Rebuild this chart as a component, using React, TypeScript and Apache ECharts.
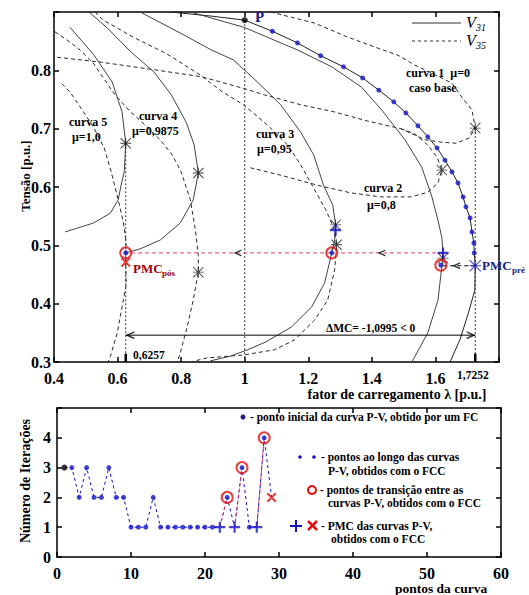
import React, { useEffect, useRef } from 'react';
import * as echarts from 'echarts';

// ================= TOP CHART DATA (λ [p.u.], V [p.u.]) =================
const xTicksTop = [0.4, 0.6, 0.8, 1, 1.2, 1.4, 1.6];
const lambdaPos = 0.6257;
const lambdaPre = 1.7252;
const pointP = [1.0, 0.886];
const pmcPre = [1.7252, 0.465];
const pmcPos = [0.6257, 0.471];

// curve 1 (mu = 0, caso base)
const c1V31Start = [[0.766, 0.9], [0.895, 0.893]];
const fccPoints = [
  [1.087, 0.867], [1.166, 0.847], [1.239, 0.825], [1.311, 0.806], [1.371, 0.787],
  [1.422, 0.766], [1.469, 0.746], [1.507, 0.727], [1.545, 0.705], [1.576, 0.686],
  [1.605, 0.667], [1.63, 0.646], [1.652, 0.626], [1.671, 0.607], [1.687, 0.583],
  [1.696, 0.566], [1.709, 0.547], [1.715, 0.523], [1.721, 0.504], [1.722, 0.487],
];
const c1V31Lower = [[1.724, 0.423], [1.702, 0.381], [1.677, 0.338], [1.646, 0.3]];
const c1V35 = [
  [1.081, 0.9], [1.22, 0.881], [1.324, 0.857], [1.409, 0.84], [1.482, 0.826], [1.535, 0.809],
  [1.589, 0.795], [1.652, 0.778], [1.683, 0.754], [1.715, 0.732], [1.7252, 0.701],
  [1.706, 0.684], [1.665, 0.675], [1.617, 0.677], [1.567, 0.681], [1.491, 0.7], [1.387, 0.713],
  [1.28, 0.729], [1.176, 0.741], [1.062, 0.758], [0.99, 0.77], [0.864, 0.789], [0.715, 0.801],
  [0.548, 0.814], [0.4, 0.823],
];
// curve 2 (mu = 0.8)
const c2V31 = [
  [0.829, 0.9], [0.996, 0.874], [1.062, 0.859], [1.122, 0.845], [1.166, 0.835], [1.274, 0.806],
  [1.368, 0.771], [1.431, 0.732], [1.504, 0.681], [1.557, 0.634], [1.589, 0.583], [1.608, 0.543],
  [1.62, 0.514], [1.624, 0.487], [1.62, 0.463], [1.608, 0.406], [1.576, 0.35], [1.526, 0.3],
];
const c2V35 = [
  [1.491, 0.7], [1.535, 0.691], [1.576, 0.672], [1.605, 0.651], [1.62, 0.629], [1.608, 0.607],
  [1.576, 0.591], [1.523, 0.583], [1.428, 0.583], [1.333, 0.59], [1.229, 0.603], [1.122, 0.619],
  [1.018, 0.633],
];
// curve 3 (mu = 0.95)
const c3V31 = [
  [0.671, 0.9], [0.797, 0.864], [0.895, 0.835], [0.964, 0.818], [1.04, 0.78], [1.113, 0.741],
  [1.176, 0.694], [1.217, 0.655], [1.248, 0.603], [1.277, 0.569], [1.286, 0.535], [1.283, 0.509],
  [1.274, 0.487], [1.251, 0.435], [1.21, 0.394], [1.147, 0.36], [1.065, 0.334], [1.009, 0.321],
  [0.955, 0.31], [0.892, 0.302],
];
const c3V35 = [
  [0.529, 0.9], [0.555, 0.886], [0.649, 0.857], [0.756, 0.828], [0.86, 0.792], [0.93, 0.763],
  [0.996, 0.741], [1.072, 0.706], [1.135, 0.672], [1.176, 0.638], [1.217, 0.598], [1.255, 0.561],
  [1.28, 0.53], [1.289, 0.501], [1.283, 0.458], [1.261, 0.406], [1.22, 0.372], [1.157, 0.338],
  [1.094, 0.321], [0.996, 0.312], [0.882, 0.307], [0.829, 0.3],
];
// curve 4 (mu = 0.9875)
const c4V31 = [
  [0.51, 0.9], [0.567, 0.873], [0.643, 0.831], [0.715, 0.797], [0.769, 0.758], [0.816, 0.711],
  [0.841, 0.672], [0.854, 0.624], [0.838, 0.578], [0.797, 0.538], [0.734, 0.509], [0.671, 0.494],
  [0.6257, 0.487],
];
const c4V35 = [
  [0.403, 0.866], [0.441, 0.852], [0.482, 0.835], [0.523, 0.813], [0.555, 0.787], [0.592, 0.758],
  [0.64, 0.729], [0.687, 0.706], [0.734, 0.681], [0.772, 0.655], [0.8, 0.626], [0.829, 0.578],
  [0.845, 0.526], [0.854, 0.483], [0.854, 0.454], [0.838, 0.406], [0.819, 0.36], [0.797, 0.315],
  [0.788, 0.3],
];
// curve 5 (mu = 1.0)
const c5V31 = [
  [0.45, 0.874], [0.526, 0.826], [0.583, 0.78], [0.614, 0.729], [0.6257, 0.675], [0.621, 0.626],
  [0.611, 0.603], [0.602, 0.578], [0.577, 0.555], [0.523, 0.538], [0.435, 0.523],
];
const c5V35 = [
  [0.425, 0.777], [0.45, 0.763], [0.485, 0.735], [0.526, 0.701], [0.558, 0.667], [0.58, 0.626],
  [0.602, 0.578], [0.618, 0.54], [0.627, 0.506], [0.6257, 0.471], [0.627, 0.432], [0.618, 0.406],
  [0.599, 0.35], [0.577, 0.309], [0.57, 0.3],
];

const blackStars = [
  [0.6257, 0.675], [0.854, 0.624], [0.854, 0.454], [1.286, 0.535], [1.289, 0.501],
  [1.62, 0.629], [1.7252, 0.701], [1.624, 0.478],
];
const pmcPlus = [[1.624, 0.487], [1.286, 0.526]];
const transitions = [[1.617, 0.466], [1.274, 0.487], [0.6257, 0.487]];
const transferV = 0.487;
const transferFrom = 1.624;
const stepV = 0.465;
const stepTo = 1.617;
const arrowMarks = [[1.665, 0.465], [1.43, 0.487], [0.977, 0.487]];
const deltaV = 0.346;

// ================= BOTTOM CHART DATA =================
const iterPoints = [1, 2, 3, 4, 5, 6, 7, 8, 9, 10, 11, 12, 13, 14, 15, 16, 17, 18, 19, 20, 21, 22, 23, 24, 25, 26, 27, 28, 29];
const iterCounts = [3, 3, 2, 3, 2, 2, 3, 2, 2, 1, 1, 1, 2, 1, 1, 1, 1, 1, 1, 1, 1, 1, 2, 1, 3, 1, 1, 4, 2];
const initialIdx = [1];
const pmcIdx = [22, 24, 27];
const transIdx = [23, 25, 28];
const pmcPosIdx = [29];

const FONT = '"Liberation Serif", "Times New Roman", serif';
const BLUE = '#1414c8';
const RED = '#e01010';
const NAVY = '#1a1a80';

const PLUS = 'path://M4,0H6V10H4Z M0,4H10V6H0Z';
const XMARK = 'path://M1.5,0 L5,3.5 L8.5,0 L10,1.5 L6.5,5 L10,8.5 L8.5,10 L5,6.5 L1.5,10 L0,8.5 L3.5,5 L0,1.5 Z';
const STAR = 'path://M4.6,0H5.4V10H4.6Z M0,4.6H10V5.4H0Z M0.6,0 L5,4.4 L9.4,0 L10,0.6 L5.6,5 L10,9.4 L9.4,10 L5,5.6 L0.6,10 L0,9.4 L4.4,5 L0,0.6 Z';
const CHEV_L = 'path://M10,0 L0,5 L10,10 L10,8 L4,5 L10,2 Z';
const CHEV_R = 'path://M0,0 L10,5 L0,10 L0,8 L6,5 L0,2 Z';

function lineS(data: any[], dashed: boolean, color = '#2a2a2a', width = 1, ai = 0, dash: any = [4, 3]) {
  return {
    type: 'line', xAxisIndex: ai, yAxisIndex: ai, data, symbol: 'none', showSymbol: false,
    silent: true, z: 2, lineStyle: { color, width, type: dashed ? dash : 'solid' },
  };
}
function sc(data: any[], symbol: string, size: any, itemStyle: any, ai = 0, z = 5, extra: any = {}) {
  return { type: 'scatter', xAxisIndex: ai, yAxisIndex: ai, data, symbol, symbolSize: size, itemStyle, z, silent: true, ...extra };
}
function txt(text: string, x: number, y: number, size: number, opts: any = {}) {
  return {
    type: 'text', x, y, rotation: opts.rotation || 0, z: 100,
    style: {
      text, fill: opts.color || '#000', fontSize: size, fontFamily: FONT,
      fontWeight: opts.weight || 'bold', fontStyle: opts.italic ? 'italic' : 'normal',
      textAlign: opts.align || 'left', textVerticalAlign: 'middle',
    },
  };
}

const axisLineS = { show: true, onZero: false, lineStyle: { color: '#000', width: 1.5 } };
const tickS = { show: true, inside: true, length: 5, lineStyle: { color: '#000', width: 1.5 } };

export default function App() {
  const ref = useRef<HTMLDivElement>(null);
  useEffect(() => {
    if (!ref.current) return;
    const chart = echarts.init(ref.current, undefined, { renderer: 'svg' });
    const pick = (idx: number[]) => idx.map((i) => [iterPoints[i - 1], iterCounts[i - 1]]);
    const seg = (a: number, b: number) => [[iterPoints[a - 1], iterCounts[a - 1]], [iterPoints[b - 1], iterCounts[b - 1]]];
    const blueIdx = iterPoints.filter((p) => !initialIdx.includes(p) && !pmcIdx.includes(p) && !pmcPosIdx.includes(p));
    const allIter = iterPoints.map((p, i) => [p, iterCounts[i]]);

    const option: any = {
      animation: false,
      backgroundColor: '#fff',
      grid: [
        { left: 54, top: 12, width: 445, height: 350 },
        { left: 57, top: 408, width: 444, height: 149 },
      ],
      xAxis: [
        {
          gridIndex: 0, type: 'value', min: 0.4, max: 1.8, interval: 0.2, position: 'bottom',
          axisLine: axisLineS, axisTick: tickS, splitLine: { show: false },
          axisLabel: {
            margin: 8, fontSize: 16, fontWeight: 'bold', fontFamily: FONT, color: '#000',
            formatter: (v: number) => (xTicksTop.some((t) => Math.abs(t - v) < 1e-6) ? String(+v.toFixed(1)) : ''),
          },
        },
        { gridIndex: 0, type: 'value', min: 0.4, max: 1.8, interval: 0.2, position: 'top', axisLine: axisLineS, axisTick: tickS, axisLabel: { show: false }, splitLine: { show: false } },
        {
          gridIndex: 1, type: 'value', min: 0, max: 60, interval: 10, position: 'bottom',
          axisLine: axisLineS, axisTick: tickS, splitLine: { show: false },
          axisLabel: { margin: 8, fontSize: 16, fontWeight: 'bold', fontFamily: FONT, color: '#000' },
        },
        { gridIndex: 1, type: 'value', min: 0, max: 60, interval: 10, position: 'top', axisLine: axisLineS, axisTick: tickS, axisLabel: { show: false }, splitLine: { show: false } },
      ],
      yAxis: [
        {
          gridIndex: 0, type: 'value', min: 0.3, max: 0.9, interval: 0.1, position: 'left',
          axisLine: axisLineS, axisTick: tickS, splitLine: { show: false },
          axisLabel: {
            margin: 3, fontSize: 16, fontWeight: 'bold', fontFamily: FONT, color: '#000',
            formatter: (v: number) => (v > 0.85 ? '' : v.toFixed(1)),
          },
        },
        { gridIndex: 0, type: 'value', min: 0.3, max: 0.9, interval: 0.1, position: 'right', axisLine: axisLineS, axisTick: tickS, axisLabel: { show: false }, splitLine: { show: false } },
        {
          gridIndex: 1, type: 'value', min: 0, max: 5, interval: 1, position: 'left',
          axisLine: axisLineS, axisTick: tickS, splitLine: { show: false },
          axisLabel: {
            margin: 6, fontSize: 16, fontWeight: 'bold', fontFamily: FONT, color: '#000',
            formatter: (v: number) => (v >= 5 ? '' : String(v)),
          },
        },
        { gridIndex: 1, type: 'value', min: 0, max: 5, interval: 1, position: 'right', axisLine: axisLineS, axisTick: tickS, axisLabel: { show: false }, splitLine: { show: false } },
      ],
      series: [
        // PV curves
        lineS([...c1V31Start, pointP, ...fccPoints, pmcPre, ...c1V31Lower], false, '#222'),
        lineS(c1V35, true),
        lineS(c2V31, false, '#444'),
        lineS(c2V35, true),
        lineS(c3V31, false, '#444'),
        lineS(c3V35, true),
        lineS(c4V31, false, '#444'),
        lineS(c4V35, true),
        lineS(c5V31, false, '#444'),
        lineS(c5V35, true),
        // reference verticals
        lineS([pointP, [pointP[0], 0.3]], true, '#333', 1, 0, [2, 2]),
        lineS([[lambdaPos, 0.675], [lambdaPos, 0.3]], true, '#333', 1, 0, [2, 2]),
        lineS([[lambdaPre, 0.701], [lambdaPre, 0.3]], true, '#333', 1, 0, [2, 2]),
        lineS([[lambdaPos, 0.3], [lambdaPos, 0.314]], false, '#000', 2.5),
        lineS([[lambdaPre, 0.3], [lambdaPre, 0.314]], false, '#000', 2.5),
        // transfer lines
        lineS([[transferFrom, transferV], [lambdaPos, transferV]], true, '#e04060', 1),
        lineS([[lambdaPre, stepV], [stepTo, stepV]], true, '#000', 1),
        lineS([[lambdaPos, deltaV], [lambdaPre, deltaV]], false, '#000', 1),
        sc(arrowMarks, CHEV_L, [8, 7], { color: '#000' }),
        sc([[lambdaPos, deltaV]], CHEV_L, [9, 8], { color: '#000' }, 0, 5, { symbolOffset: [4, 0] }),
        sc([[lambdaPre, deltaV]], CHEV_R, [9, 8], { color: '#000' }, 0, 5, { symbolOffset: [-4, 0] }),
        // markers
        sc(fccPoints, 'circle', 5, { color: BLUE }),
        sc([pointP], 'circle', 6, { color: '#000' }),
        sc(blackStars, STAR, 11, { color: '#111' }),
        sc(pmcPlus, PLUS, 11, { color: BLUE }, 0, 6),
        sc([pmcPre], STAR, 12, { color: BLUE }, 0, 6),
        sc(transitions, 'circle', 11, { color: 'rgba(0,0,0,0)', borderColor: RED, borderWidth: 2 }, 0, 6),
        sc(transitions, 'circle', 5, { color: BLUE }, 0, 7),
        sc([pmcPos], XMARK, 10, { color: RED }, 0, 7),

        // ---- bottom chart ----
        lineS(allIter, true, BLUE, 1, 2, [3, 3]),
        lineS(seg(22, 23), true, '#e03060', 1, 2, [3, 3]),
        lineS(seg(24, 25), true, '#e03060', 1, 2, [3, 3]),
        lineS(seg(27, 28), true, '#e03060', 1, 2, [3, 3]),
        sc(pick(blueIdx), 'circle', 5, { color: BLUE }, 2),
        sc(pick(initialIdx), 'circle', 6, { color: '#000' }, 2),
        sc(pick(pmcIdx), PLUS, 11, { color: BLUE }, 2, 6),
        sc(pick(transIdx), 'circle', 11, { color: 'rgba(0,0,0,0)', borderColor: RED, borderWidth: 2 }, 2, 6),
        sc(pick(pmcPosIdx), XMARK, 10, { color: RED }, 2, 6),
      ],
      graphic: [
        // axis names
        txt('Tensão [p.u.]', 25, 176, 13, { rotation: Math.PI / 2, align: 'center' }),
        txt('fator de carregamento λ [p.u.]', 397, 394, 14, { align: 'center' }),
        txt('Número de Iterações', 25, 481, 14, { rotation: Math.PI / 2, align: 'center' }),
        txt('pontos da curva', 441, 588, 13.5, { align: 'center' }),
        // top legend
        { type: 'line', z: 100, shape: { x1: 412, y1: 23, x2: 461, y2: 23 }, style: { stroke: '#333', lineWidth: 1 } },
        { type: 'line', z: 100, shape: { x1: 412, y1: 41, x2: 461, y2: 41 }, style: { stroke: '#333', lineWidth: 1, lineDash: [3, 3] } },
        txt('V', 466, 22, 16, { weight: 'normal', italic: true }),
        txt('31', 476, 27, 10, { weight: 'normal', italic: true }),
        txt('V', 466, 40, 16, { weight: 'normal', italic: true }),
        txt('35', 476, 45, 10, { weight: 'normal', italic: true }),
        // curve labels
        txt('curva 1  μ=0', 406, 73, 12),
        txt('caso base', 409, 88, 12),
        txt('curva 2', 364, 188, 12),
        txt('μ=0,8', 367, 205, 12),
        txt('curva 3', 256, 134, 12),
        txt('μ=0,95', 257, 149, 12),
        txt('curva 4', 139, 116, 12),
        txt('μ=0,9875', 132, 131, 12),
        txt('curva 5', 69, 122, 12),
        txt('μ=1,0', 72, 137, 12),
        // annotations
        txt('P', 255, 17, 15, { color: NAVY }),
        txt('PMC', 482, 265, 13, { color: NAVY }),
        txt('pré', 512, 270, 9, { color: NAVY }),
        txt('PMC', 133, 268, 13, { color: '#a00000' }),
        txt('pós', 162, 273, 9, { color: '#a00000' }),
        txt('ΔMC= -1,0995 < 0', 326, 328, 11.5),
        txt('0,6257', 133, 355, 11.5),
        txt('1,7252', 457, 375, 11.5),
        // bottom legend
        { type: 'circle', z: 100, shape: { cx: 243, cy: 417, r: 2.5 }, style: { fill: NAVY } },
        txt('- ponto inicial da curva P-V, obtido por um FC', 250, 417, 11.5),
        { type: 'circle', z: 100, shape: { cx: 300, cy: 457, r: 1.8 }, style: { fill: BLUE } },
        { type: 'circle', z: 100, shape: { cx: 314, cy: 457, r: 1.8 }, style: { fill: BLUE } },
        txt('- pontos ao longo das curvas', 321, 457, 11.5),
        txt('P-V, obtidos com o FCC', 328, 471, 11.5),
        { type: 'circle', z: 100, shape: { cx: 312, cy: 490, r: 4 }, style: { fill: 'none', stroke: RED, lineWidth: 2 } },
        txt('- pontos de transição entre as', 320, 490, 11.5),
        txt('curvas P-V, obtidos com o FCC', 328, 503, 11.5),
        { type: 'line', z: 100, shape: { x1: 290, y1: 526, x2: 302, y2: 526 }, style: { stroke: BLUE, lineWidth: 2 } },
        { type: 'line', z: 100, shape: { x1: 296, y1: 520, x2: 296, y2: 532 }, style: { stroke: BLUE, lineWidth: 2 } },
        { type: 'line', z: 100, shape: { x1: 308, y1: 521, x2: 317, y2: 530 }, style: { stroke: RED, lineWidth: 2.5 } },
        { type: 'line', z: 100, shape: { x1: 317, y1: 521, x2: 308, y2: 530 }, style: { stroke: RED, lineWidth: 2.5 } },
        txt('- PMC das curvas P-V,', 321, 526, 11.5),
        txt('obtidos com o FCC', 331, 539, 11.5),
      ],
    };
    chart.setOption(option);
    return () => chart.dispose();
  }, []);
  return <div ref={ref} style={{ position: 'absolute', left: 0, top: 0, width: 529, height: 595, background: '#fff' }} />;
}
